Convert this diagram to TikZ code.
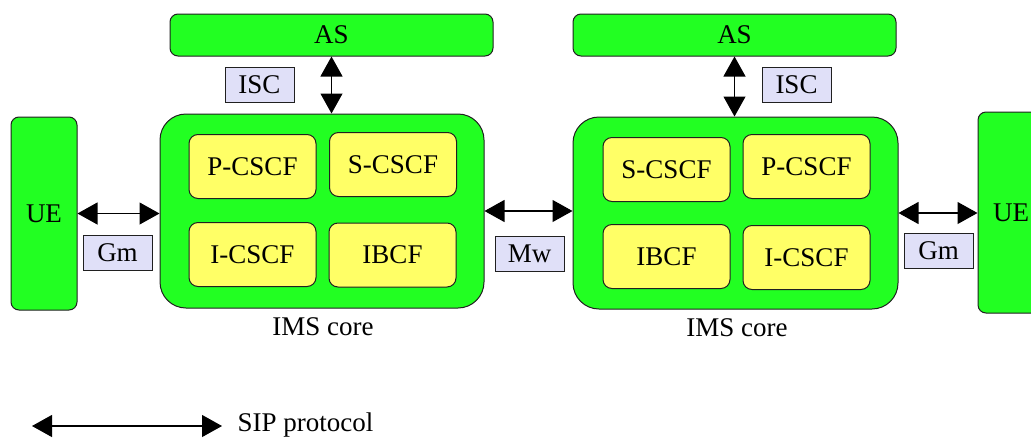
\documentclass[tikz,border=0pt]{standalone}
\usepackage{fontspec}
\setmainfont{Liberation Serif}
\usetikzlibrary{arrows.meta,positioning}
\definecolor{imsgreen}{HTML}{22FF22}
\definecolor{cscfyellow}{HTML}{FFFF66}
\definecolor{reflav}{HTML}{E0E0F8}
\definecolor{edge}{HTML}{202020}
\begin{document}
\begin{tikzpicture}[x=1pt,y=-1pt,
    font=\fontsize{27}{32}\selectfont,
    greenbox/.style={draw=edge, line width=1pt, fill=imsgreen, rounded corners=8pt, inner sep=0pt},
    corebox/.style={greenbox, rounded corners=26pt},
    func/.style={draw=edge, line width=1pt, fill=cscfyellow, rounded corners=9pt,
                 minimum width=127pt, minimum height=64pt, inner sep=0pt},
    ref/.style={draw=edge, line width=0.8pt, fill=reflav, minimum width=69pt, minimum height=35pt, inner sep=0pt},
    sip/.style={{Triangle[length=20pt,width=22pt]}-{Triangle[length=20pt,width=22pt]}, line width=1.1pt, draw=black}]
  \clip (0,0) rectangle (1031,437);

  % application servers
  \node (asL) [greenbox, minimum width=323pt, minimum height=42pt] at (331.5,35) {AS};
  \node (asR) [greenbox, minimum width=323pt, minimum height=42pt] at (734.5,35) {AS};
  \node (iscL) [ref] at (259.5,84.5) {ISC};
  \node (iscR) [ref] at (796.5,84.5) {ISC};

  % user equipment
  \node (ueL) [greenbox, minimum width=66pt, minimum height=193pt] at (44,213.5) {UE};
  \node (ueR) [greenbox, minimum width=66pt, minimum height=201pt] at (1011,212.5) {UE};

  % IMS cores
  \node (coreL) [corebox, minimum width=324pt, minimum height=194pt] at (322,211) {};
  \node (coreR) [corebox, minimum width=325pt, minimum height=192pt] at (735.5,213) {};
  \node (imsL) at (323,327) {IMS core};
  \node (imsR) at (737,328) {IMS core};

  \node (pcscfL) [func] at (252.5,166.5) {P-CSCF};
  \node (scscfL) [func] at (393,164.5)   {S-CSCF};
  \node (icscfL) [func] at (252.5,254.5) {I-CSCF};
  \node (ibcfL)  [func] at (392.5,255)   {IBCF};

  \node (scscfR) [func] at (666.5,169.5) {S-CSCF};
  \node (pcscfR) [func] at (806.5,166.5) {P-CSCF};
  \node (ibcfR)  [func] at (666.5,256.5) {IBCF};
  \node (icscfR) [func] at (806.5,257.5) {I-CSCF};

  % reference points
  \node (gmL) [ref] at (117.5,252.5) {Gm};
  \node (mw)  [ref] at (529.5,254)   {Mw};
  \node (gmR) [ref] at (938.5,250.5) {Gm};

  \draw [sip] (asL.south) -- (asL.south |- coreL.north);
  \draw [sip] (asR.south) -- (asR.south |- coreR.north);
  \draw [sip] (ueL.east) -- (ueL.east -| coreL.west);
  \draw [sip] (coreL.east) -- (coreL.east -| coreR.west);
  \draw [sip] (coreR.east) -- (coreR.east -| ueR.west);

  % legend
  \coordinate (legA) at (32,426);
  \coordinate (legB) at (222,426);
  \node (legtext) [anchor=west] at (234,425) {SIP protocol};
  \draw [sip] (legA) -- (legB);
\end{tikzpicture}
\end{document}
